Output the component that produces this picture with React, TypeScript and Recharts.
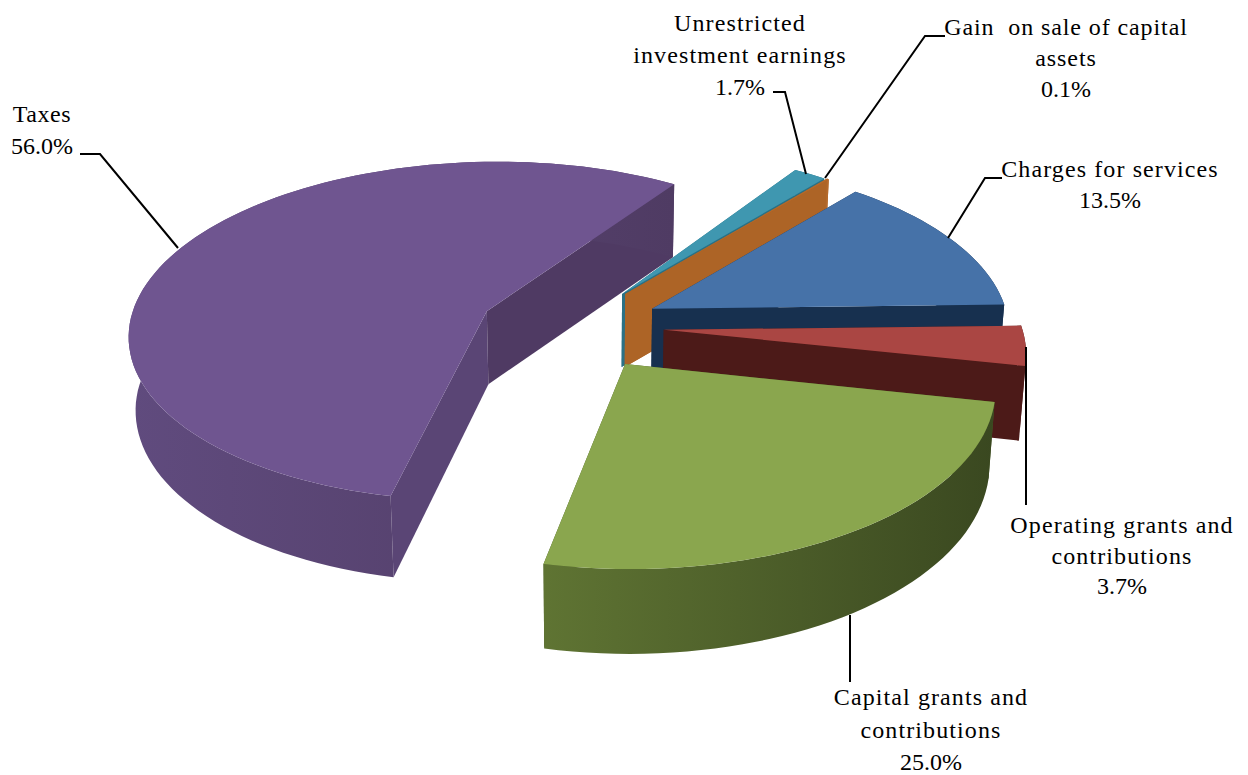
import { Pie, PieChart } from 'recharts'

const categories = [
  'Unrestricted investment earnings',
  'Gain on sale of capital assets',
  'Charges for services',
  'Operating grants and contributions',
  'Capital grants and contributions',
  'Taxes',
]
const shares = [1.7, 0.1, 13.5, 3.7, 25.0, 56.0]
const labelLines = [
  ['Unrestricted', 'investment earnings', '1.7%'],
  ['Gain  on sale of capital', 'assets', '0.1%'],
  ['Charges for services', '13.5%'],
  ['Operating grants and', 'contributions', '3.7%'],
  ['Capital grants and', 'contributions', '25.0%'],
  ['Taxes', '56.0%'],
]

const data = categories.map((name, i) => ({ name, value: shares[i] }))

// look of each slice, same order as categories
const topColors = ['#3f97b0', '#b5692a', '#4672a8', '#aa4643', '#8aa64e', '#6f5590']
const sideLeft = ['#2b7185', '#b5692a', '#17304f', '#4c1a18', '#5f7433', '#604b7e']
const sideRight = ['#2b7185', '#b5692a', '#17304f', '#4c1a18', '#3a4820', '#4f3b63']
const faceStart = ['#2b7185', '#ad6426', '#17304f', '#4c1a18', '#4a5c28', '#5a4575']
const faceEnd = ['#2b7185', '#ad6426', '#17304f', '#4c1a18', '#4a5c28', '#4f3a63']
// how far each slice is pulled out, in pie radii (right, away from viewer)
const explodeX = [0.086, 0.095, 0.17, 0.2, 0.09, -0.297]
const explodeY = [0.245, 0.245, 0.155, 0.03, -0.165, 0.14]

// text anchor x, baselines, letter spacing and leader line of each label
const labelX = [740, 1066, 1110, 1122, 931, 42]
const labelY = [
  [31, 63, 95],
  [35, 66, 97],
  [177, 208],
  [533, 564, 594],
  [705, 738, 770],
  [122, 154],
]
const labelSpacing = [1.1, 0.9, 1.1, 1.1, 1.1, 0.6]
const leaders = [
  '773,92 785,92 806,174',
  '945,36 925,36 825,178',
  '1002,178 985,178 948,238',
  '1026,347 1026,505',
  '850,615 850,682',
  '80,154 100,154 178,248',
]

const TILT = 0.48
const PERSP = 0.12
const DEPTH = 73
const BOTTOM_SHRINK = 0.985

type P = [number, number]

function WedgeShape(props: any) {
  const { cx, cy, outerRadius: R, startAngle, endAngle, index } = props
  const a0 = 90 - startAngle
  const a1 = 90 - endAngle
  const ox = explodeX[index]
  const oy = explodeY[index]

  const project = (X: number, Y: number, low: boolean): P => {
    const w = 1 + PERSP * Y
    const x = cx + (R * X) / w
    const y = cy - (R * TILT * Y) / w
    if (!low) return [x, y]
    return [cx + (x - cx) * BOTTOM_SHRINK, y + DEPTH / Math.min(w, 1)]
  }
  const rim = (deg: number, low: boolean) => {
    const t = (deg * Math.PI) / 180
    return project(ox + Math.sin(t), oy + Math.cos(t), low)
  }
  const arc = (low: boolean) => {
    const pts: P[] = []
    const n = Math.max(2, Math.ceil((a1 - a0) / 2))
    for (let i = 0; i <= n; i++) pts.push(rim(a0 + ((a1 - a0) * i) / n, low))
    return pts
  }
  const path = (pts: P[]) =>
    'M' + pts.map((p) => `${p[0].toFixed(1)},${p[1].toFixed(1)}`).join('L') + 'Z'

  const apexTop = project(ox, oy, false)
  const apexLow = project(ox, oy, true)
  const topArc = arc(false)
  const lowArc = arc(true)
  const xs = topArc.map((p) => p[0])
  const grad = `wall-${index}`

  return (
    <g>
      <defs>
        <linearGradient
          id={grad}
          gradientUnits="userSpaceOnUse"
          x1={Math.min(...xs)}
          x2={Math.max(...xs)}
          y1={0}
          y2={0}
        >
          <stop offset="0" stopColor={sideLeft[index]} />
          <stop offset="1" stopColor={sideRight[index]} />
        </linearGradient>
      </defs>
      <path d={path([apexTop, rim(a0, false), rim(a0, true), apexLow])} fill={faceStart[index]} />
      <path d={path([apexTop, rim(a1, false), rim(a1, true), apexLow])} fill={faceEnd[index]} />
      <path d={path([...topArc, ...lowArc.reverse()])} fill={`url(#${grad})`} />
      <path d={path([apexTop, ...topArc])} fill={topColors[index]} />
    </g>
  )
}

function SliceLabel(props: any) {
  const i = props.index
  return (
    <g>
      <polyline points={leaders[i]} fill="none" stroke="#000" strokeWidth={2} />
      {labelLines[i].map((line, k) => (
        <text
          key={k}
          x={labelX[i]}
          y={labelY[i][k]}
          textAnchor="middle"
          fontFamily="'Liberation Serif', serif"
          fontSize={24}
          letterSpacing={line.endsWith('%') ? 0 : labelSpacing[i]}
          fill="#000"
          style={{ whiteSpace: 'pre' }}
        >
          {line}
        </text>
      ))}
    </g>
  )
}

export default function App() {
  return (
    <div style={{ position: 'absolute', left: 0, top: 0, width: 1248, height: 775, background: '#fff' }}>
      <PieChart width={1248} height={775} margin={{ top: 0, right: 0, bottom: 0, left: 0 }}>
        <Pie
          data={data}
          dataKey="value"
          nameKey="name"
          cx={592}
          cy={335}
          innerRadius={0}
          outerRadius={360}
          startAngle={56.5}
          endAngle={-303.5}
          stroke="none"
          shape={WedgeShape}
          label={SliceLabel}
          labelLine={false}
          isAnimationActive={false}
        />
      </PieChart>
    </div>
  )
}
